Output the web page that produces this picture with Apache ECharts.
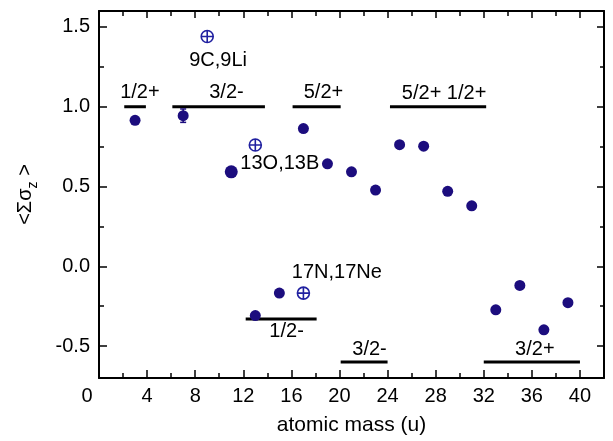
<!DOCTYPE html>
<html>
<head>
<meta charset="utf-8">
<script src="https://cdn.jsdelivr.net/npm/echarts@6/dist/echarts.min.js"></script>
<style>
html,body{margin:0;padding:0;background:#fff;}
#c{width:613px;height:441px;}
</style>
</head>
<body>
<div id="c"></div>
<script>
// ---- data ----
var filledX = [3, 7, 11, 13, 15, 17, 19, 21, 23, 25, 27, 29, 31, 33, 35, 37, 39];
var filledY = [0.915, 0.944, 0.592, -0.309, -0.168, 0.863, 0.642, 0.592, 0.478, 0.762, 0.753, 0.470, 0.379, -0.273, -0.120, -0.398, -0.228];
var openX = [9, 13, 17];
var openY = [1.44, 0.76, -0.168];
var errX = [7];
var errY = [0.944];
var errV = [0.042];
var levelStart = [2.1, 6.1, 16.1, 24.2, 12.2, 20.1, 32.0];
var levelEnd = [3.9, 13.8, 20.1, 32.2, 18.1, 24.0, 40.0];
var levelY = [1.0, 1.0, 1.0, 1.0, -0.33, -0.6, -0.6];
var labelText = ['1/2+', '3/2-', '5/2+', '5/2+ 1/2+', '1/2-', '3/2-', '3/2+', '9C,9Li', '13O,13B', '17N,17Ne'];
var labelX = [3.4, 10.6, 18.67, 28.7, 15.6, 22.5, 36.25, 9.9, 15.04, 19.78];
var labelY = [1.087, 1.087, 1.087, 1.08, -0.41, -0.52, -0.52, 1.29, 0.646, -0.04];
var xTicks = [0, 4, 8, 12, 16, 20, 24, 28, 32, 36, 40];
var xTitle = 'atomic mass (u)';

var FONT = 'Liberation Sans';
var NAVY = '#1c0d7e';
var OPEN = '#2020a0';

var filledData = filledX.map(function (x, i) { return [x, filledY[i]]; });
var openData = openX.map(function (x, i) { return [x, openY[i]]; });
var errData = errX.map(function (x, i) { return [x, errY[i], errV[i]]; });
var levelData = levelStart.map(function (x, i) { return [x, levelEnd[i], levelY[i]]; });
var labelData = labelText.map(function (t, i) { return { name: t, value: [labelX[i], labelY[i]] }; });

function xAxisDef(pos, step, len, showLine, showLabel) {
  return {
    type: 'value', position: pos, min: 0, max: 42, interval: step,
    axisLine: { show: showLine, onZero: false, lineStyle: { color: '#000', width: 2 } },
    axisTick: { show: true, inside: true, length: len, lineStyle: { color: '#000', width: 1.5 } },
    axisLabel: {
      show: showLabel, color: '#000', fontSize: 20, fontFamily: FONT, margin: 8,
      showMaxLabel: false,
      formatter: function (v) {
        if (xTicks.indexOf(v) < 0) return '';
        return v === 0 ? '{z|0}' : String(v);
      },
      rich: { z: { fontSize: 20, fontFamily: FONT, color: '#000', padding: [0, 24, 0, 0] } }
    },
    splitLine: { show: false }
  };
}
function yAxisDef(pos, step, len, showLine, showLabel) {
  return {
    type: 'value', position: pos, min: -0.7, max: 1.6, minInterval: step, maxInterval: step,
    axisLine: { show: showLine, onZero: false, lineStyle: { color: '#000', width: 2 } },
    axisTick: { show: true, inside: true, length: len, lineStyle: { color: '#000', width: 1.5 } },
    axisLabel: {
      show: showLabel, color: '#000', fontSize: 20, fontFamily: FONT, margin: 9,
      showMinLabel: false, showMaxLabel: false,
      formatter: function (v) { return v.toFixed(1); }
    },
    splitLine: { show: false }
  };
}

var xa0 = xAxisDef('bottom', 4, 8, true, true);
xa0.name = xTitle;
xa0.nameLocation = 'middle';
xa0.nameGap = 37;
xa0.nameTextStyle = { color: '#000', fontSize: 21, fontFamily: FONT };

var ya0 = yAxisDef('left', 0.5, 8, true, true);
ya0.name = '{n|<Σσ}{s|z}{n| >}';
ya0.nameLocation = 'middle';
ya0.nameGap = 59;
ya0.nameTextStyle = {
  color: '#000',
  rich: {
    n: { fontSize: 20, fontFamily: FONT, color: '#000', lineHeight: 30 },
    s: { fontSize: 14, fontFamily: FONT, color: '#000', lineHeight: 30, verticalAlign: 'bottom' }
  }
};

var option = {
  animation: false,
  backgroundColor: '#fff',
  grid: { left: 99, right: 9, top: 11, bottom: 60, containLabel: false },
  xAxis: [
    xa0,
    xAxisDef('bottom', 2, 5, false, false),
    xAxisDef('top', 4, 7, true, false),
    xAxisDef('top', 2, 5, false, false)
  ],
  yAxis: [
    ya0,
    yAxisDef('left', 0.25, 5, false, false),
    yAxisDef('right', 0.5, 7, true, false),
    yAxisDef('right', 0.25, 4, false, false)
  ],
  series: [
    {
      type: 'custom', name: 'levels', xAxisIndex: 0, yAxisIndex: 0, z: 2,
      data: levelData,
      renderItem: function (params, api) {
        var p0 = api.coord([api.value(0), api.value(2)]);
        var p1 = api.coord([api.value(1), api.value(2)]);
        return { type: 'line', shape: { x1: p0[0], y1: p0[1], x2: p1[0], y2: p1[1] },
          style: { stroke: '#000', lineWidth: 3 } };
      }
    },
    {
      type: 'custom', name: 'err', xAxisIndex: 0, yAxisIndex: 0, z: 3,
      data: errData,
      renderItem: function (params, api) {
        var x = api.value(0), y = api.value(1), e = api.value(2);
        var a = api.coord([x, y + e]);
        var b = api.coord([x, y - e]);
        var st = { stroke: NAVY, lineWidth: 1.5 };
        return { type: 'group', children: [
          { type: 'line', shape: { x1: a[0], y1: a[1], x2: b[0], y2: b[1] }, style: st },
          { type: 'line', shape: { x1: a[0] - 3, y1: a[1], x2: a[0] + 3, y2: a[1] }, style: st },
          { type: 'line', shape: { x1: b[0] - 3, y1: b[1], x2: b[0] + 3, y2: b[1] }, style: st }
        ] };
      }
    },
    {
      type: 'scatter', name: 'filled', xAxisIndex: 0, yAxisIndex: 0, z: 4,
      data: filledData,
      symbol: 'circle',
      symbolSize: function (v) { return v[0] === 11 ? 13 : 11; },
      itemStyle: { color: NAVY, opacity: 1 }
    },
    {
      type: 'scatter', name: 'open', xAxisIndex: 0, yAxisIndex: 0, z: 4,
      data: openData,
      symbol: 'path://M0,-10A10,10,0,1,1,0,10A10,10,0,1,1,0,-10ZM0,-10L0,10M-10,0L10,0',
      symbolSize: 12,
      itemStyle: { color: '#fff', borderColor: OPEN, borderWidth: 1.6, opacity: 1 }
    },
    {
      type: 'scatter', name: 'labels', xAxisIndex: 0, yAxisIndex: 0, z: 5,
      data: labelData,
      symbol: 'circle', symbolSize: 1,
      itemStyle: { color: 'rgba(0,0,0,0)', opacity: 1 },
      silent: true,
      label: {
        show: true, position: 'inside', align: 'center', verticalAlign: 'middle',
        formatter: '{b}', color: '#000', fontSize: 20, fontFamily: FONT
      }
    }
  ]
};

var chart = echarts.init(document.getElementById('c'), null, { renderer: 'canvas' });
chart.setOption(option);
</script>
</body>
</html>
